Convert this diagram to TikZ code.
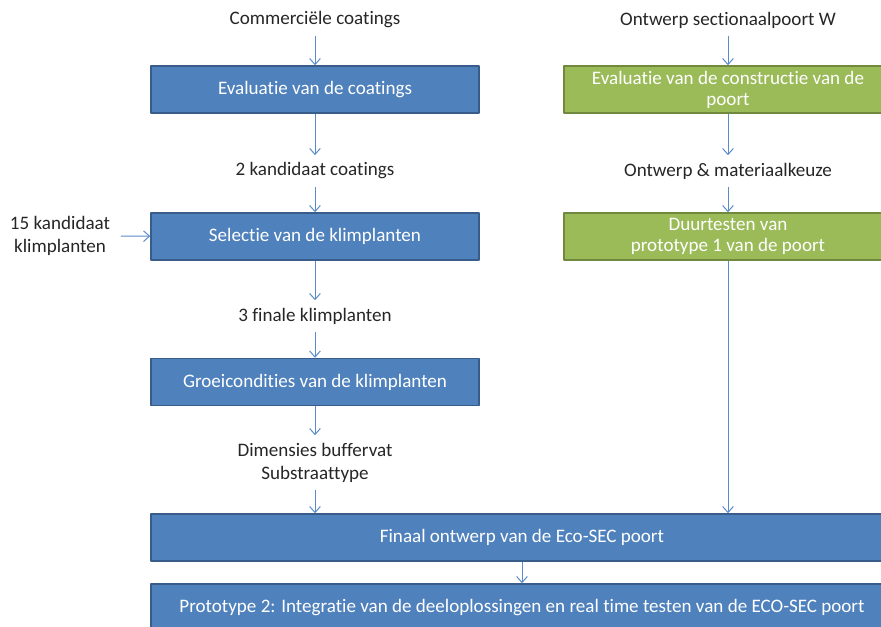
\documentclass[tikz,border=0pt]{standalone}
\usepackage{fontspec}
\setmainfont{Carlito}[Ligatures=NoCommon]
\usetikzlibrary{arrows.meta}
\definecolor{boxblue}{HTML}{4F81BD}
\definecolor{edgeblue}{HTML}{385D8A}
\definecolor{boxgreen}{HTML}{9BBB59}
\definecolor{edgegreen}{HTML}{71893F}
\definecolor{lineblue}{HTML}{5B8BC9}
\begin{document}
\begin{tikzpicture}[x=0.75pt,y=-0.75pt,font=\fontsize{14.3}{17.25}\selectfont,line join=round,>={Straight Barb[length=4.5pt,width=8pt]},
	bluebox/.style={draw=edgeblue,fill=boxblue,line width=1.1pt,text=white,align=center,minimum width=246pt,minimum height=35.25pt,inner sep=1pt},
	greenbox/.style={bluebox,draw=edgegreen,fill=boxgreen,font=\fontsize{14.3}{15.75}\selectfont},
	widebox/.style={bluebox,minimum width=556.5pt},
	flow/.style={->,draw=lineblue,line width=0.75pt},
	lbl/.style={align=center,text=black!85,inner xsep=2pt,inner ysep=5.5pt}]
	\useasboundingbox (0,0) rectangle (881,627);
	\clip (0,0) rectangle (881,627);
	% left column
	\node[lbl] (coat) at (315,20) {Commerciële coatings};
	\node[bluebox] (evalcoat) at (315,89.5) {Evaluatie van de coatings};
	\node[lbl] (twocoat) at (315,171) {2 kandidaat coatings};
	\node[bluebox] (select) at (315,236.5) {Selectie van de klimplanten};
	\node[lbl,inner xsep=8pt] (cand) at (60,236) {15 kandidaat\\klimplanten};
	\node[lbl] (three) at (315,316) {3 finale klimplanten};
	\node[bluebox] (grow) at (315,382) {Groeicondities van de klimplanten};
	\node[lbl] (dims) at (315,462.5) {Dimensies buffervat\\Substraattype};
	% right column
	\node[lbl] (door) at (728,20) {Ontwerp sectionaalpoort W};
	\node[greenbox] (evaldoor) at (728,89.5) {Evaluatie van de constructie van de\\poort};
	\node[lbl] (mat) at (728,171) {Ontwerp \& materiaalkeuze};
	\node[greenbox] (dur) at (728,236.5) {Duurtesten van\\prototype 1 van de poort};
	% bottom
	\node[widebox] (final) at (522,537.5) {Finaal ontwerp van de Eco-SEC poort};
	\node[widebox] (proto) at (522,607.5) {Prototype 2: Integratie van de deeloplossingen en real time testen van de ECO-SEC poort};
	% connectors
	\draw[flow] (coat) -- (evalcoat);
	\draw[flow] (evalcoat) -- (twocoat);
	\draw[flow] (twocoat) -- (select);
	\draw[flow] (cand) -- (select);
	\draw[flow] (select) -- (three);
	\draw[flow] (three) -- (grow);
	\draw[flow] (grow) -- (dims);
	\draw[flow] (dims) -- (dims |- final.north);
	\draw[flow] (door) -- (evaldoor);
	\draw[flow] (evaldoor) -- (mat);
	\draw[flow] (mat) -- (dur);
	\draw[flow] (dur) -- (dur |- final.north);
	\draw[flow] (final) -- (proto);
\end{tikzpicture}
\end{document}
